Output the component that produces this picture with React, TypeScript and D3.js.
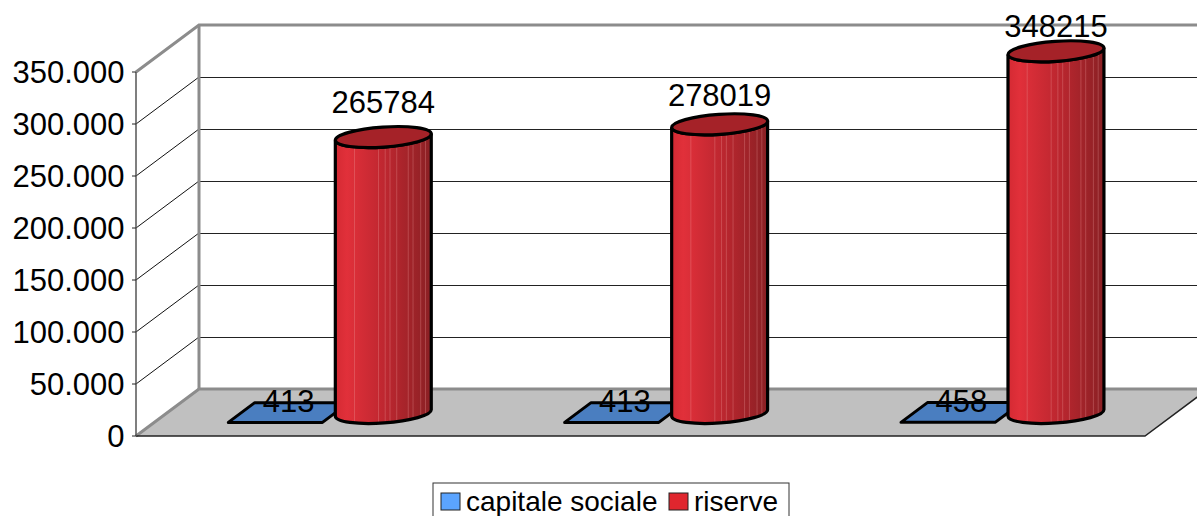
import React, { useEffect, useRef } from "react";
import * as d3 from "d3";

const categories = ["periodo 1", "periodo 2", "periodo 3"];
const seriesNames = ["capitale sociale", "riserve"];
const capitaleSociale = [413, 413, 458];
const riserve = [265784, 278019, 348215];
const yTicks = [0, 50000, 100000, 150000, 200000, 250000, 300000, 350000];

// excel puts the labels a bit unevenly above the cylinders
const labelLift = [24, 18, 14];
const stripes = [0.2, 0.45, 0.52, 0.57, 0.64, 0.76, 0.81, 0.89, 0.94];

const W = 1197;
const H = 516;
const depthX = 63;
const depthY = 47;
const font = "'Liberation Sans', Arial, sans-serif";

export default function App() {
  const ref = useRef<SVGSVGElement>(null);

  useEffect(() => {
    const svg = d3.select(ref.current);
    svg.selectAll("*").remove();

    const y = d3.scaleLinear().domain([0, 350000]).range([436, 72]);
    const x0 = d3.scaleBand().domain(categories).range([136, 1145]);
    const x1 = d3
      .scaleBand()
      .domain(seriesNames)
      .range([x0.bandwidth() * 0.222, x0.bandwidth() * 0.782]);

    const fmt = d3.formatLocale({
      decimal: ",",
      thousands: ".",
      grouping: [3],
      currency: ["", ""]
    }).format(",");

    const px = (x: number, d: number) => x + depthX * d;
    const py = (v: number, d: number) => y(v) - depthY * d;
    const pts = (list: number[][]) => list.map(p => p.join(",")).join(" ");

    const defs = svg.append("defs");
    const grad = defs.append("linearGradient").attr("id", "cyl");
    grad.append("stop").attr("offset", "0%").attr("stop-color", "#d42a33");
    grad.append("stop").attr("offset", "12%").attr("stop-color", "#e1303a");
    grad.append("stop").attr("offset", "50%").attr("stop-color", "#bf2730");
    grad.append("stop").attr("offset", "100%").attr("stop-color", "#8a2024");

    // floor
    svg
      .append("polygon")
      .attr("points", pts([[px(136, 0), py(0, 0)], [px(136, 1), py(0, 1)], [W + 20, py(0, 1)], [px(1145, 1), py(0, 1)], [px(1145, 0), py(0, 0)]]))
      .attr("fill", "#c0c0c0");

    // gridlines back wall + side wall
    yTicks.slice(1, -1).forEach(t => {
      svg.append("line").attr("x1", px(136, 1)).attr("x2", W).attr("y1", Math.round(py(t, 1)) + 0.5).attr("y2", Math.round(py(t, 1)) + 0.5).attr("stroke", "#222").attr("stroke-width", 1);
      svg.append("line").attr("x1", px(136, 0)).attr("x2", px(136, 1)).attr("y1", py(t, 0)).attr("y2", py(t, 1)).attr("stroke", "#111").attr("stroke-width", 1);
    });

    // wall frame
    const frame = "#8c8c8c";
    svg
      .append("polyline")
      .attr("points", pts([[px(136, 0), py(350000, 0)], [px(136, 1), py(350000, 1)], [W, py(350000, 1)]]))
      .attr("fill", "none").attr("stroke", frame).attr("stroke-width", 3);
    svg
      .append("polyline")
      .attr("points", pts([[px(136, 0), py(0, 0)], [px(136, 1), py(0, 1)], [W, py(0, 1)]]))
      .attr("fill", "none").attr("stroke", frame).attr("stroke-width", 3);
    svg.append("line").attr("x1", px(136, 1)).attr("x2", px(136, 1)).attr("y1", py(350000, 1)).attr("y2", py(0, 1)).attr("stroke", frame).attr("stroke-width", 3);

    // front floor edge
    svg
      .append("polyline")
      .attr("points", pts([[px(136, 0), py(0, 0)], [px(1145, 0), py(0, 0)], [px(1145, 1), py(0, 1)]]))
      .attr("fill", "none").attr("stroke", "#222").attr("stroke-width", 1.5);

    // value axis
    svg.append("line").attr("x1", 136).attr("x2", 136).attr("y1", y(350000)).attr("y2", y(0)).attr("stroke", "#555").attr("stroke-width", 1.5);
    const ticks = svg.append("g").selectAll("g").data(yTicks).enter().append("g");
    ticks.append("line").attr("x1", 132).attr("x2", 136).attr("y1", d => y(d)).attr("y2", d => y(d)).attr("stroke", "#222");
    ticks
      .append("text")
      .attr("x", 124.5)
      .attr("y", d => y(d) + 11)
      .attr("text-anchor", "end")
      .attr("font-family", font)
      .attr("font-size", 31)
      .attr("fill", "#000")
      .text(d => fmt(d));

    const bw = x1.bandwidth();
    const label = (x: number, yy: number, t: string) =>
      svg.append("text").attr("x", x).attr("y", yy).attr("text-anchor", "middle")
        .attr("font-family", font).attr("font-size", 31).attr("fill", "#000").text(t);

    categories.forEach((c, i) => {
      // capitale sociale: nearly flat box
      const left = x0(c)! + x1(seriesNames[0])!;
      const v = capitaleSociale[i];
      const dFront = 0.28;
      const dBack = 0.7;
      svg
        .append("polygon")
        .attr("points", pts([[px(left, dFront), py(v, dFront)], [px(left, dBack), py(v, dBack)], [px(left + bw, dBack), py(v, dBack)], [px(left + bw, dFront), py(v, dFront)]]))
        .attr("fill", "#4a7ec0").attr("stroke", "#000").attr("stroke-width", 3).attr("stroke-linejoin", "round");
      label(px(left + bw / 2, 0.49), py(0, 0.49) - 1, String(v));

      // riserve: cylinder
      const l2 = x0(c)! + x1(seriesNames[1])!;
      const cx = px(l2 + bw / 2, 0.49) + 0.5;
      const baseY = py(0, 0.49);
      const topY = py(riserve[i], 0.49) + 0.5;
      const rx = bw / 2 + 1;
      const ry = 10;
      const tilt = -4;
      const dy = rx * Math.sin((tilt * Math.PI) / 180);
      const dx = rx * Math.cos((tilt * Math.PI) / 180);
      const body =
        `M${cx - dx},${topY - dy} L${cx - dx},${baseY - dy} ` +
        `A${rx},${ry} ${tilt} 0 0 ${cx + dx},${baseY + dy} L${cx + dx},${topY + dy} ` +
        `A${rx},${ry} ${tilt} 0 1 ${cx - dx},${topY - dy} Z`;
      const clipId = "clip" + i;
      defs.append("clipPath").attr("id", clipId).append("path").attr("d", body);
      svg.append("path").attr("d", body).attr("fill", "url(#cyl)");
      svg
        .append("g")
        .attr("clip-path", `url(#${clipId})`)
        .selectAll("line")
        .data(stripes)
        .enter()
        .append("line")
        .attr("x1", f => cx - dx + f * 2 * dx)
        .attr("x2", f => cx - dx + f * 2 * dx)
        .attr("y1", topY - 20)
        .attr("y2", baseY + 20)
        .attr("stroke", "#f0a0a0")
        .attr("stroke-opacity", 0.3)
        .attr("stroke-width", 1);
      svg.append("path").attr("d", body).attr("fill", "none").attr("stroke", "#000").attr("stroke-width", 3.2);
      svg
        .append("ellipse")
        .attr("cx", cx).attr("cy", topY).attr("rx", rx).attr("ry", ry)
        .attr("transform", `rotate(${tilt} ${cx} ${topY})`)
        .attr("fill", "#a52228").attr("stroke", "#000").attr("stroke-width", 3.2);
      label(cx, topY - labelLift[i], String(riserve[i]));
    });

    // legend, runs off the bottom of the picture like the original
    const legend = svg.append("g");
    legend.append("rect").attr("x", 433).attr("y", 483).attr("width", 356).attr("height", 50).attr("fill", "#fff").attr("stroke", "#333").attr("stroke-width", 1);
    const legendColors = ["#5ba4ff", "#e0262e"];
    const legendX = [441, 669];
    seriesNames.forEach((s, i) => {
      legend.append("rect").attr("x", legendX[i]).attr("y", 493).attr("width", 19).attr("height", 17).attr("fill", legendColors[i]).attr("stroke", "#222").attr("stroke-width", 1);
      legend.append("text").attr("x", legendX[i] + 25).attr("y", 511).attr("font-family", font).attr("font-size", 28).attr("fill", "#000").text(s);
    });
  }, []);

  return <svg ref={ref} width={W} height={H} style={{ position: "absolute", left: 0, top: 0, display: "block" }} />;
}
